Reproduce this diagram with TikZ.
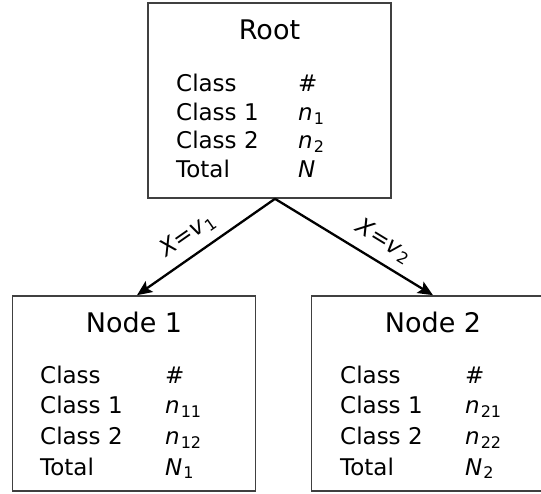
\documentclass[tikz,border=0pt]{standalone}
\usepackage{fontspec}
\setmainfont{DejaVu Sans}
\usetikzlibrary{arrows.meta,positioning,calc}

\newcommand{\sub}[1]{\raisebox{-0.3ex}{\fontsize{16}{16}\selectfont #1}}
\newcommand{\cnt}[2]{\textit{#1}\kern1pt\sub{#2}}

\tikzset{
  box/.style={draw=black!75, line width=1.6pt, minimum width=243pt, minimum height=195pt, inner sep=0pt},
  title/.style={anchor=base, inner sep=0pt, font=\fontsize{27}{30}\selectfont},
  table/.style={anchor=base west, inner sep=0pt, font=\fontsize{23}{#1}\selectfont},
  branch/.style={line width=2.3pt, -{Stealth[length=15pt,width=13pt,inset=3pt]}},
  cond/.style={sloped, above=7pt, inner sep=2pt, font=\fontsize{23}{25}\selectfont}
}

\begin{document}
\begin{tikzpicture}[x=1pt,y=1pt]
    \useasboundingbox (0,0) rectangle (541,493);

    % boxes
    \node[box] (root) at (269.5,392.5) {};
    \node[box] (left) at (134,99.5) {};
    \node[box] (right) at (433,99.5) {};

    % root
    \node[title] (roottitle) at (269.5,453) {Root};
    \node[table=28.5] (roottab) at (176,401) {\begin{tabular}[t]{@{}p{122pt}@{}l@{}}
        Class & \# \\
        Class 1 & \cnt{n}{1} \\
        Class 2 & \cnt{n}{2} \\
        Total & \textit{N}
    \end{tabular}};

    % node 1
    \node[title] (lefttitle) at (134,160) {Node 1};
    \node[table=30.7] (lefttab) at (40,110) {\begin{tabular}[t]{@{}p{125pt}@{}l@{}}
        Class & \# \\
        Class 1 & \cnt{n}{11} \\
        Class 2 & \cnt{n}{12} \\
        Total & \cnt{N}{1}
    \end{tabular}};

    % node 2
    \node[title] (righttitle) at (433,160) {Node 2};
    \node[table=30.7] (righttab) at (340,110) {\begin{tabular}[t]{@{}p{125pt}@{}l@{}}
        Class & \# \\
        Class 1 & \cnt{n}{21} \\
        Class 2 & \cnt{n}{22} \\
        Total & \cnt{N}{2}
    \end{tabular}};

    % branches
    \coordinate (split) at ([xshift=5.5pt]root.south);
    \draw[branch] (split) -- ([xshift=3pt]left.north)
        node[cond, pos=0.55] (cond1) {\textit{X}=\cnt{v}{1}};
    \draw[branch] (split) -- (right.north)
        node[cond, pos=0.62] (cond2) {\textit{X}=\cnt{v}{2}};
\end{tikzpicture}
\end{document}
